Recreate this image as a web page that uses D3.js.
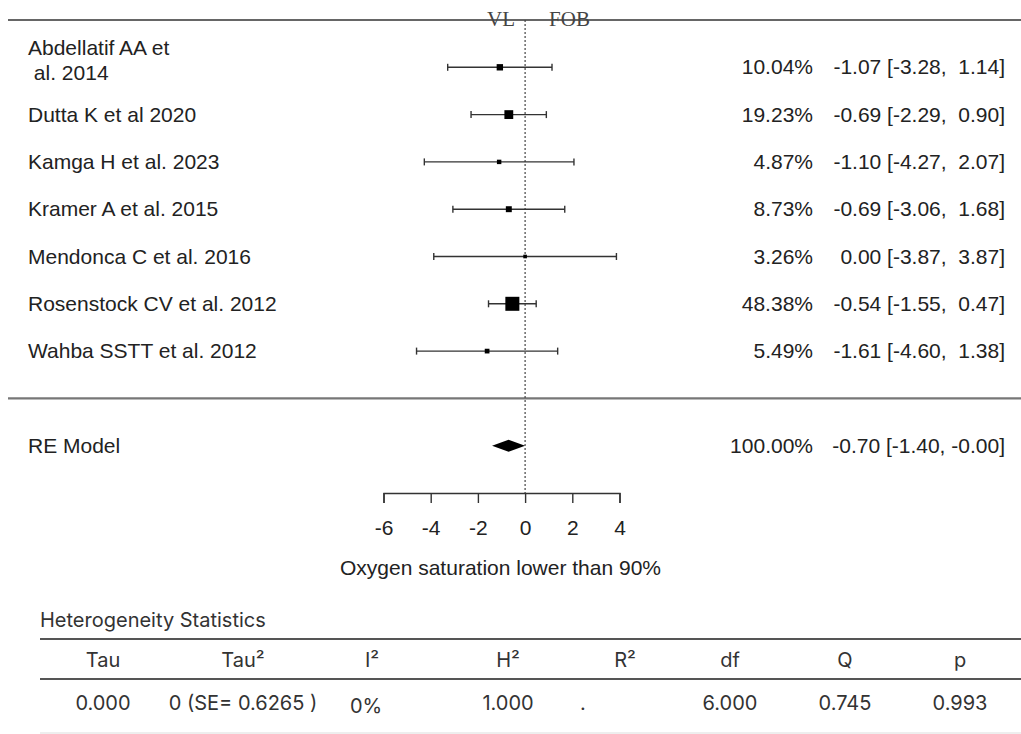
<!DOCTYPE html>
<meta charset="utf-8">
<style>
  body { margin: 0; background: #fff; }
  text { font-family: "Liberation Sans", Arial, sans-serif; fill: #222; }
</style>
<svg width="1021" height="734"></svg>
<script src="https://d3js.org/d3.v7.min.js"></script>
<script>
// study rows
var studies = ["Abdellatif AA et\n al. 2014", "Dutta K et al 2020", "Kamga H et al. 2023",
  "Kramer A et al. 2015", "Mendonca C et al. 2016", "Rosenstock CV et al. 2012", "Wahba SSTT et al. 2012"]
var weights = [10.04, 19.23, 4.87, 8.73, 3.26, 48.38, 5.49]
var estimates = [-1.07, -0.69, -1.10, -0.69, 0.00, -0.54, -1.61]
var lower = [-3.28, -2.29, -4.27, -3.06, -3.87, -1.55, -4.60]
var upper = [1.14, 0.90, 2.07, 1.68, 3.87, 0.47, 1.38]

// pooled random-effects model
var reLabel = "RE Model"
var reWeight = 100.00
var reEstimate = -0.70
var reLower = -1.40
var reUpper = -0.00

var axisTicks = [-6, -4, -2, 0, 2, 4]
var axisTitle = "Oxygen saturation lower than 90%"
var leftLabel = "VL", rightLabel = "FOB"

// heterogeneity table
var hetHeaders = ["Tau", "Tau\u00b2", "I\u00b2", "H\u00b2", "R\u00b2", "df", "Q", "p"]
var hetValues = ["0.000", "0 (SE= 0.6265 )", "0%", "1.000", ".", "6.000", "0.745", "0.993"]

var svg = d3.select("svg")

var x = d3.scaleLinear().domain([-6, 4]).range([383.5, 619.5])
var row = d3.scaleLinear().domain([-1, 9]).range([20, 493])
var size = d3.scaleSqrt().domain([0, d3.max(weights)]).range([0, 14])

// plain hyphen minus, like the R output
function fmt(v) { return (v < 0 || Object.is(v, -0) ? "-" : "") + Math.abs(v).toFixed(2) }
function pad(v) { return (v < 0 || Object.is(v, -0) ? "" : " ") + fmt(v) }
function fmtCI(e, l, u) { return fmt(e) + " [" + fmt(l) + ", " + pad(u) + "]" }

var rows = studies.map(function (s, i) {
  return { label: s, w: weights[i], est: estimates[i], lo: lower[i], hi: upper[i], i: i }
})

// header line and separator
svg.append("line").attr("x1", 8).attr("x2", 1021).attr("y1", row(-1)).attr("y2", row(-1))
  .attr("stroke", "#666").attr("stroke-width", 2)
svg.append("line").attr("x1", 8).attr("x2", 1021).attr("y1", row(7)).attr("y2", row(7))
  .attr("stroke", "#777").attr("stroke-width", 2.2)

// reference line at 0
svg.append("line").attr("x1", x(0)).attr("x2", x(0)).attr("y1", row(-1)).attr("y2", row(9))
  .attr("stroke", "#444").attr("stroke-width", 1.2).attr("stroke-dasharray", "2,2")

// VL / FOB labels
var serif = "'Liberation Serif', 'DejaVu Serif', serif"
svg.append("text").attr("x", x(0) - 10).attr("y", row(-1) + 6).attr("text-anchor", "end")
  .style("font-family", serif).style("font-size", "21px").style("fill", "#444").text(leftLabel)
svg.append("text").attr("x", x(0) + 24).attr("y", row(-1) + 6)
  .style("font-family", serif).style("font-size", "21px").style("fill", "#444").text(rightLabel)

// study labels
var lab = svg.append("g").selectAll("text").data(rows).enter().append("text")
  .attr("x", 28).style("font-size", "21px")
lab.each(function (d) {
  var parts = d.label.split("\n")
  var t = d3.select(this)
  if (parts.length === 1) {
    t.attr("y", row(d.i) + 7).text(parts[0])
  } else {
    t.append("tspan").attr("x", 28).attr("y", row(d.i) - 12).text(parts[0])
    t.append("tspan").attr("x", 28).attr("y", row(d.i) + 13).attr("xml:space", "preserve").text(parts[1])
  }
})

// CIs
var ci = svg.append("g").attr("stroke", "#333").attr("stroke-width", 1.4)
ci.selectAll(".ci").data(rows).enter().append("line")
  .attr("x1", function (d) { return x(d.lo) }).attr("x2", function (d) { return x(d.hi) })
  .attr("y1", function (d) { return row(d.i) }).attr("y2", function (d) { return row(d.i) })
ci.selectAll(".capl").data(rows).enter().append("line")
  .attr("x1", function (d) { return x(d.lo) }).attr("x2", function (d) { return x(d.lo) })
  .attr("y1", function (d) { return row(d.i) - 3.5 }).attr("y2", function (d) { return row(d.i) + 3.5 })
ci.selectAll(".capr").data(rows).enter().append("line")
  .attr("x1", function (d) { return x(d.hi) }).attr("x2", function (d) { return x(d.hi) })
  .attr("y1", function (d) { return row(d.i) - 3.5 }).attr("y2", function (d) { return row(d.i) + 3.5 })

// squares
svg.append("g").selectAll("rect").data(rows).enter().append("rect")
  .attr("x", function (d) { return x(d.est) - size(d.w) / 2 })
  .attr("y", function (d) { return row(d.i) - size(d.w) / 2 })
  .attr("width", function (d) { return size(d.w) })
  .attr("height", function (d) { return size(d.w) })
  .attr("fill", "#000")

// right-hand columns
svg.append("g").selectAll("text").data(rows).enter().append("text")
  .attr("x", 813).attr("y", function (d) { return row(d.i) + 7 })
  .attr("text-anchor", "end").style("font-size", "21px")
  .text(function (d) { return d.w.toFixed(2) + "%" })
svg.append("g").selectAll("text").data(rows).enter().append("text")
  .attr("x", 1005).attr("y", function (d) { return row(d.i) + 7 })
  .attr("text-anchor", "end").attr("xml:space", "preserve").style("font-size", "21px")
  .style("white-space", "pre")
  .text(function (d) { return fmtCI(d.est, d.lo, d.hi) })

// RE model
var yRE = row(8)
svg.append("text").attr("x", 28).attr("y", yRE + 7).style("font-size", "21px").text(reLabel)
svg.append("polygon")
  .attr("points", [[x(reLower), yRE], [x(reEstimate), yRE - 6], [x(reUpper), yRE], [x(reEstimate), yRE + 6]].join(" "))
  .attr("fill", "#000")
svg.append("text").attr("x", 813).attr("y", yRE + 7).attr("text-anchor", "end")
  .style("font-size", "21px").text(reWeight.toFixed(2) + "%")
svg.append("text").attr("x", 1005).attr("y", yRE + 7).attr("text-anchor", "end")
  .attr("xml:space", "preserve").style("white-space", "pre").style("font-size", "21px")
  .text(fmtCI(reEstimate, reLower, reUpper))

// axis
var axis = d3.axisBottom(x).tickValues(axisTicks).tickFormat(function (d) { return String(d) })
  .tickSize(10).tickSizeOuter(10).tickPadding(17)
var ag = svg.append("g").attr("transform", "translate(0," + row(9) + ")").call(axis)
ag.select(".domain").attr("stroke", "#333").attr("stroke-width", 1.4)
ag.selectAll(".tick line").attr("stroke", "#333").attr("stroke-width", 1.4)
ag.selectAll(".tick text").style("font-size", "21px").style("font-family", "'Liberation Sans', Arial, sans-serif").attr("fill", "#222")
svg.append("text").attr("x", (x(-6) + x(4)) / 2 - 1).attr("y", 575).attr("text-anchor", "middle")
  .style("font-size", "21px").text(axisTitle)

// heterogeneity table
var colX = [103, 243, 372, 508, 625, 730, 845, 960]
var tf = "Inter, 'Noto Sans', sans-serif"
var ts = "20px"
svg.append("text").attr("x", 40).attr("y", 627).style("font-family", tf).style("font-size", ts)
  .style("fill", "#333").text("Heterogeneity Statistics")
svg.append("line").attr("x1", 40).attr("x2", 1021).attr("y1", 639).attr("y2", 639).attr("stroke", "#555").attr("stroke-width", 2)
svg.append("line").attr("x1", 40).attr("x2", 1021).attr("y1", 679).attr("y2", 679).attr("stroke", "#555").attr("stroke-width", 2)
svg.append("line").attr("x1", 40).attr("x2", 1021).attr("y1", 733).attr("y2", 733).attr("stroke", "#ddd").attr("stroke-width", 1)
svg.append("g").selectAll("text").data(hetHeaders).enter().append("text")
  .attr("x", function (d, i) { return colX[i] }).attr("y", 667).attr("text-anchor", "middle")
  .style("font-family", tf).style("font-size", ts).style("fill", "#333")
  .text(function (d) { return d })
svg.append("g").selectAll("text").data(hetValues).enter().append("text")
  .attr("x", function (d, i) { return i === 2 ? 350 : i === 4 ? 580 : colX[i] })
  .attr("y", function (d, i) { return i === 2 ? 713 : 710 })
  .attr("text-anchor", function (d, i) { return i === 2 || i === 4 ? "start" : "middle" })
  .style("font-family", tf).style("font-size", ts).style("fill", "#333")
  .text(function (d) { return d })
</script>
